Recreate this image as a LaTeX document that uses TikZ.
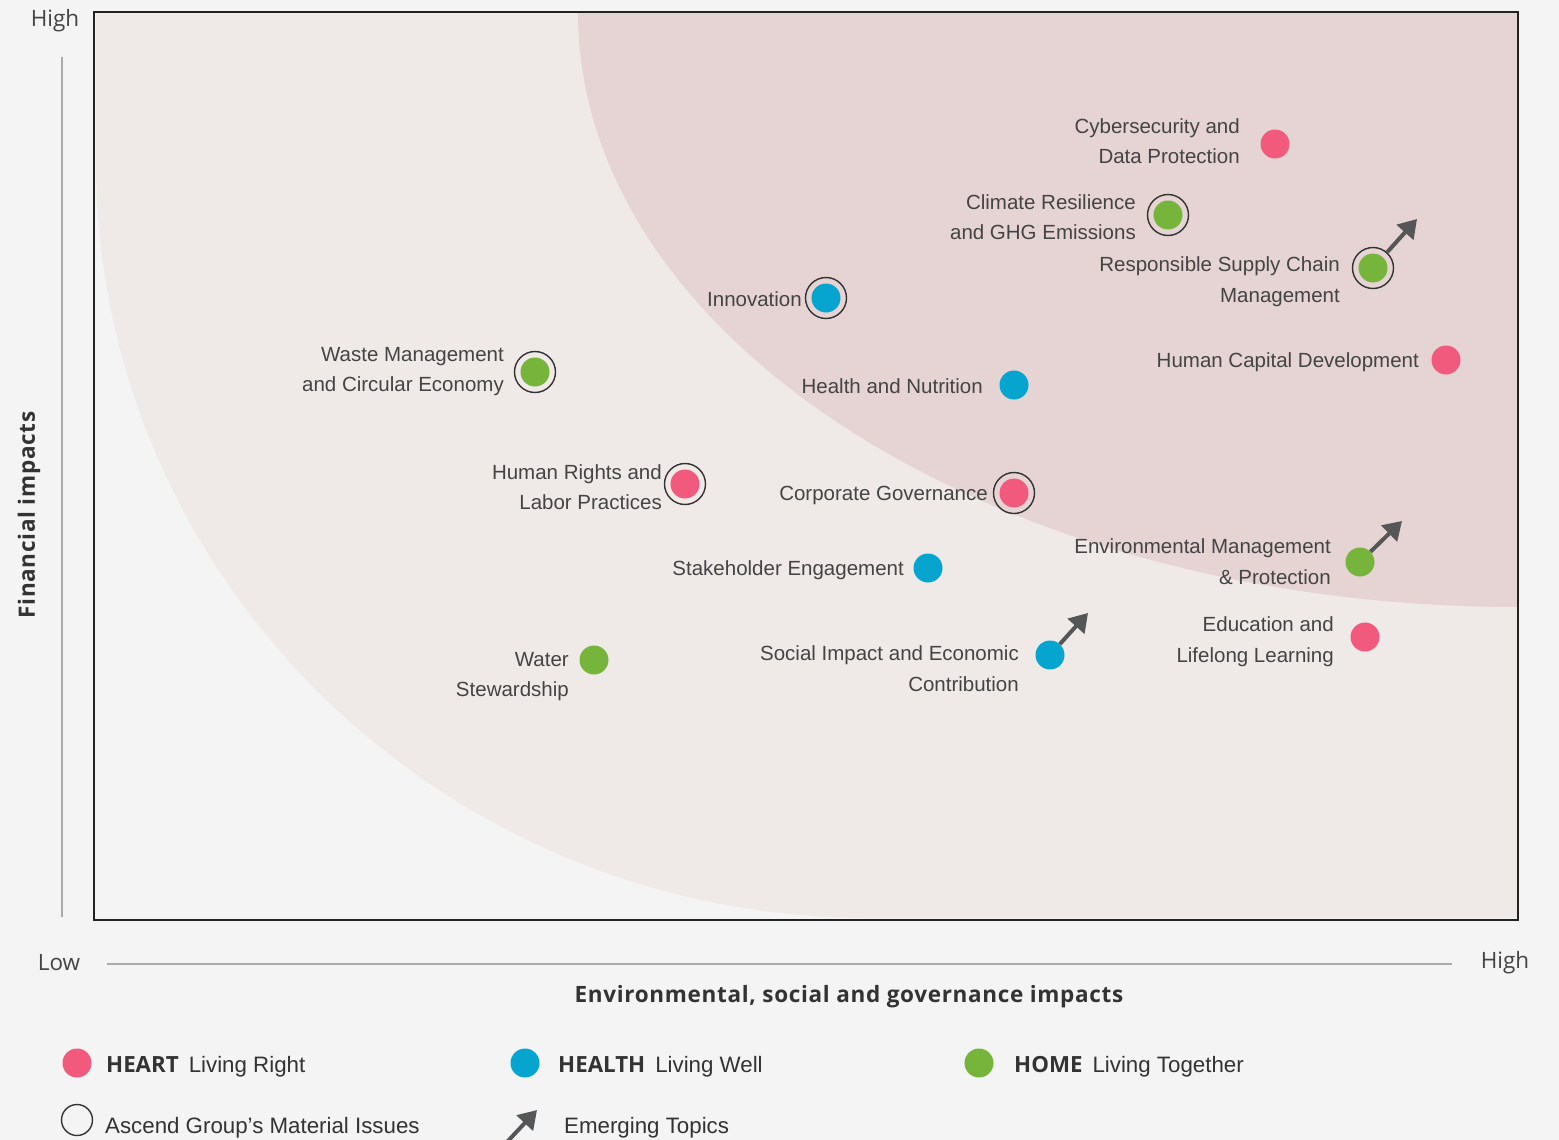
\documentclass[tikz,border=0pt]{standalone}
\usepackage{fontspec}
\setmainfont{Liberation Sans}
\newfontfamily\osans{Open Sans}
\newfontfamily\osansls[LetterSpace=3]{Open Sans}
\usetikzlibrary{arrows.meta}
\definecolor{bg}{HTML}{F4F4F4}
\definecolor{lightc}{HTML}{EFEAE8}
\definecolor{darkc}{HTML}{E5D4D3}
\definecolor{heart}{HTML}{F25A7D}
\definecolor{health}{HTML}{05A5D0}
\definecolor{home}{HTML}{76B43C}
\definecolor{txt}{HTML}{444444}
\definecolor{ttl}{HTML}{333333}
\definecolor{arrc}{HTML}{555658}
\definecolor{ringc}{HTML}{333333}
\definecolor{axisc}{HTML}{AAAAAA}
\definecolor{framec}{HTML}{222222}
\tikzset{
  dot/.style={circle, minimum size=29pt, inner sep=0pt, fill=#1},
  ring/.style={circle, minimum size=41pt, inner sep=0pt, draw=ringc, line width=1.4pt},
  lab/.style={font=\fontsize{20.5}{30.5}\selectfont, text=txt, align=right, inner sep=0pt, anchor=east},
  emerg/.style={draw=arrc, line width=4pt, -{Triangle[length=18pt,width=22pt]}},
  axlab/.style={font=\osans\fontsize{22.5}{26}\selectfont, text=txt, inner sep=0pt},
  ttlab/.style={font=\osansls\bfseries\fontsize{22.5}{26}\selectfont, text=ttl, inner sep=0pt},
  legt/.style={font=\fontsize{22.3}{26}\selectfont, text=ttl, inner sep=0pt, anchor=base west},
}
\newcommand{\lgb}[1]{{\osans\bfseries #1}}
\begin{document}
\begin{tikzpicture}[x=1pt,y=-1pt]
\fill[bg] (0,0) rectangle (1559,1140);
\useasboundingbox (0,0) rectangle (1559,1140);
% regions
\fill[lightc] (96,12) -- (96,161) arc[start angle=180,end angle=270,x radius=774pt,y radius=757pt] -- (1518,918) -- (1518,12) -- cycle;
\fill[darkc] (578,12) arc[start angle=180,end angle=270,x radius=940pt,y radius=595pt] -- (1518,12) -- cycle;
\draw[framec, line width=2pt] (94,12) rectangle (1518,920);
% axes
\draw[axisc, line width=1.5pt] (62,57) -- (62,917);
\draw[axisc, line width=1.5pt] (107,964) -- (1452,964);
\node[axlab] (yhigh) at (55,21) {High};
\node[axlab] (xlow) at (59,963) {Low};
\node[axlab] (xhigh) at (1505,963) {High};
\node[ttlab, rotate=90] (ytitle) at (29,515) {Financial impacts};
\node[ttlab] (xtitle) at (849,997) {Environmental, social and governance impacts};
% rings
\node[ring] (r2) at (1168,215) {};
\node[ring] (r3) at (1373,268) {};
\node[ring] (r4) at (826,298) {};
\node[ring] (r6) at (535,372) {};
\node[ring] (r8) at (685,484) {};
\node[ring] (r9) at (1014,493) {};
% dots
\node[dot=heart] (d1) at (1275,144) {};
\node[dot=home] (d2) at (1168,215) {};
\node[dot=home] (d3) at (1373,268) {};
\node[dot=health] (d4) at (826,298) {};
\node[dot=heart] (d5) at (1446,360) {};
\node[dot=home] (d6) at (535,372) {};
\node[dot=health] (d7) at (1014,385) {};
\node[dot=heart] (d8) at (685,484) {};
\node[dot=heart] (d9) at (1014,493) {};
\node[dot=home] (d10) at (1360,562) {};
\node[dot=health] (d11) at (928,568) {};
\node[dot=heart] (d12) at (1365,637) {};
\node[dot=home] (d13) at (594,660) {};
\node[dot=health] (d14) at (1050,655) {};
% labels
\node[lab] (l1) at (1240,141) {Cybersecurity and\\Data Protection};
\node[lab] (l2) at (1136,217) {Climate Resilience\\and GHG Emissions};
\node[lab] (l3) at (1340,281.5) {Responsible Supply Chain\\Management};
\node[lab] (l4) at (802,299) {Innovation};
\node[lab] (l5) at (1419,362) {Human Capital Development};
\node[lab] (l6) at (504,371.5) {Waste Management\\and Circular Economy};
\node[lab] (l7) at (983,386) {Health and Nutrition};
\node[lab] (l8) at (662,487) {Human Rights and\\Labor Practices};
\node[lab] (l9) at (988,495) {Corporate Governance};
\node[lab] (l10) at (1331,561.5) {Environmental Management\\\& Protection};
\node[lab] (l11) at (904,570) {Stakeholder Engagement};
\node[lab] (l12) at (1334,641.5) {Education and\\Lifelong Learning};
\node[lab] (l13) at (569,676.5) {Water\\Stewardship};
\node[lab] (l14) at (1019,668.5) {Social Impact and Economic\\Contribution};
% emerging arrows
\coordinate (t3) at (1417,219);
\coordinate (t10) at (1402,521);
\coordinate (t14) at (1088,613);
\draw[emerg] (r3) -- (t3);
\draw[emerg] (d10) -- (t10);
\draw[emerg] (d14) -- (t14);
% legend
\node[dot=heart] (lg1) at (77,1063) {};
\node[legt] (lt1) at (106,1072) {\lgb{HEART}\hspace{10pt}Living Right};
\node[dot=health] (lg2) at (525,1063) {};
\node[legt] (lt2) at (558,1072) {\lgb{HEALTH}\hspace{10pt}Living Well};
\node[dot=home] (lg3) at (979,1063) {};
\node[legt] (lt3) at (1014,1072) {\lgb{HOME}\hspace{10pt}Living Together};
\node[ring, minimum size=31pt] (lg4) at (77,1120) {};
\node[legt] (lt4) at (105,1133) {Ascend Group’s Material Issues};
\begin{scope}
\clip (0,0) rectangle (1559,1140);
\coordinate (la0) at (507,1142);
\coordinate (la1) at (537,1110);
\draw[emerg] (la0) -- (la1);
\end{scope}
\node[legt] (lt5) at (564,1133) {Emerging Topics};
\end{tikzpicture}
\end{document}
